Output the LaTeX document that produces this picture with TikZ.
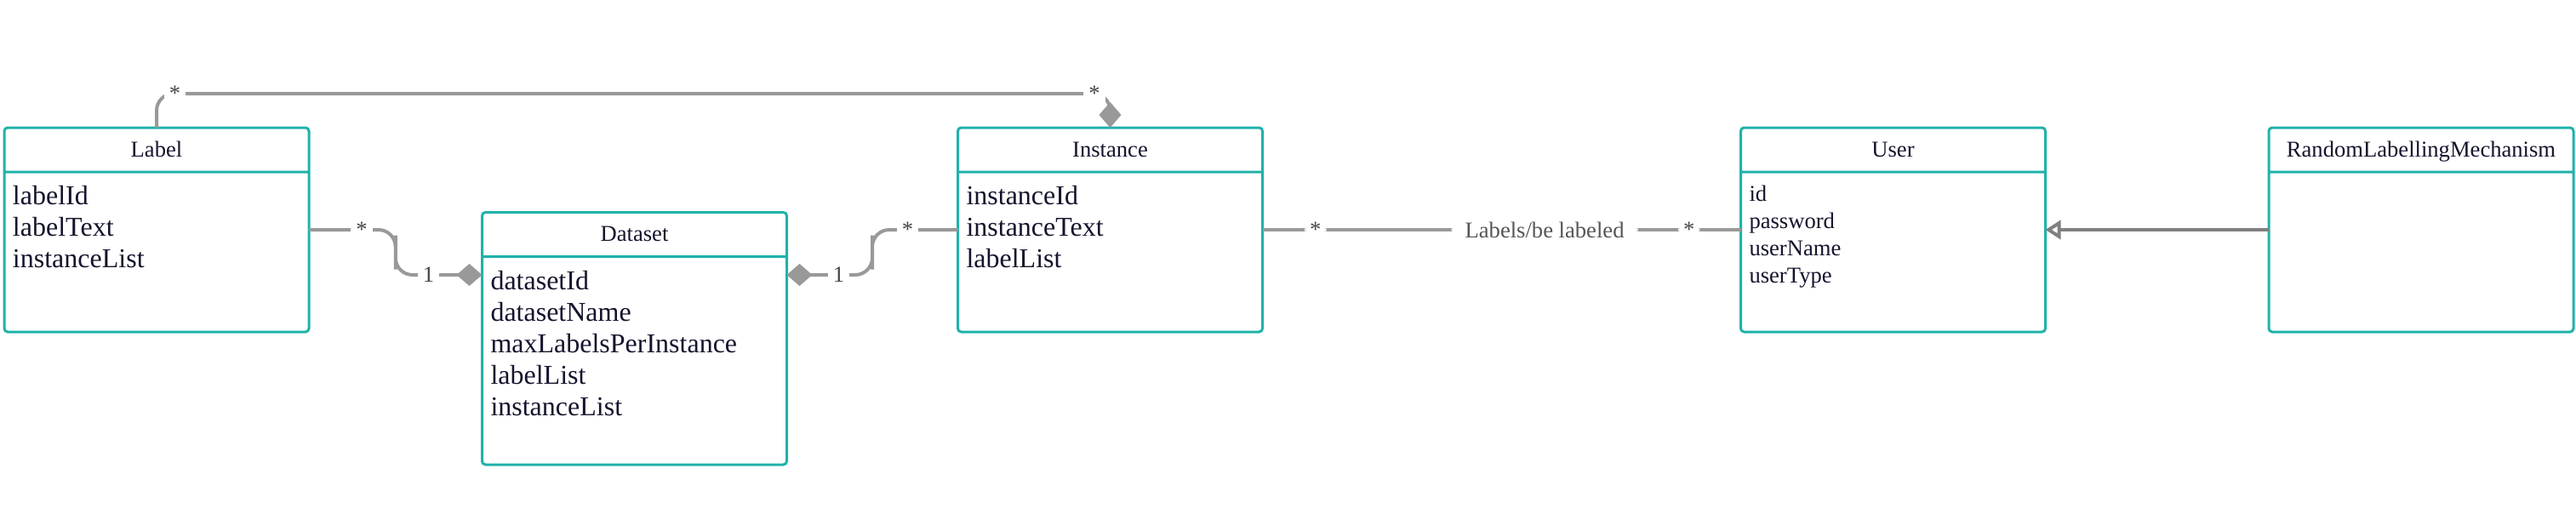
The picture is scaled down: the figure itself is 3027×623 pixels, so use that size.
\documentclass[tikz,border=0pt]{standalone}
\usepackage{tikz}
\usetikzlibrary{arrows.meta,shapes.multipart,calc}
\usepackage{fontspec}
\setmainfont{Liberation Serif}
\definecolor{boxteal}{RGB}{32,178,170}
\definecolor{classink}{RGB}{20,20,45}
\definecolor{linegray}{RGB}{153,153,153}
\definecolor{gengray}{RGB}{128,128,128}
\definecolor{multgray}{RGB}{68,68,68}
\definecolor{assocgray}{RGB}{85,85,85}
% class header and attribute compartment
\newcommand{\classtitle}[1]{\parbox[c][24.5pt][c]{179pt}{\centering\strut #1}}
\newcommand{\attrbox}[5]{\parbox[t][#1][t]{179pt}{\fontsize{#2}{#3}\selectfont\raggedright\leftskip=5pt\rule{0pt}{#4}#5\par}}
\tikzset{comp/.tip={Diamond[length=15pt,width=13pt]}}

\begin{document}
\begin{tikzpicture}[x=0.5pt,y=-0.5pt,
	umlclass/.style={rectangle split, rectangle split parts=2,%
		draw=boxteal, line width=1.5pt, rounded corners=2pt,%
		inner sep=0pt, outer sep=0pt, anchor=north west,%
		text=classink, font=\fontsize{13.3}{20}\selectfont},
	assoc/.style={draw=linegray, line width=2pt, rounded corners=10pt},
	mult/.style={fill=white, text=multgray, inner sep=3pt,%
		font=\fontsize{13.3}{16}\selectfont},
	gen/.style={draw=gengray, line width=2pt,%
		-{Triangle[open,fill=white,length=9pt,width=11pt]}}]
	\useasboundingbox (0,0) rectangle (3027,623);

	\node[umlclass] (label) at (5,150) {\classtitle{Label}%
		\nodepart{two}\attrbox{92.5pt}{16}{18.5}{18.5pt}{labelId\\labelText\\instanceList}};
	\node[umlclass] (dataset) at (566.5,249.5) {\classtitle{Dataset}%
		\nodepart{two}\attrbox{120.75pt}{16}{18.5}{18.5pt}{datasetId\\datasetName\\maxLabelsPerInstance\\labelList\\instanceList}};
	\node[umlclass] (instance) at (1125.5,150) {\classtitle{Instance}%
		\nodepart{two}\attrbox{92.5pt}{16}{18.5}{18.5pt}{instanceId\\instanceText\\labelList}};
	\node[umlclass] (user) at (2045.5,150) {\classtitle{User}%
		\nodepart{two}\attrbox{92.5pt}{13.3}{16}{16.5pt}{id\\password\\userName\\userType}};
	\node[umlclass] (rlm) at (2666,150) {\classtitle{RandomLabellingMechanism}%
		\nodepart{two}\attrbox{92.5pt}{13.3}{16}{16.5pt}{}};

	\coordinate (dsin) at ([yshift=-36.75pt]dataset.north west);
	\coordinate (dsout) at ([yshift=-36.75pt]dataset.north east);

	% compositions
	\draw[assoc,-comp] (label.east) -| ($(label.east)!.5!(dsin)$) |- (dsin);
	\draw[assoc,comp-] (dsout) -| ($(dsout)!.5!(instance.west)$) |- (instance.west);
	\draw[assoc,-comp] (label.north) |- ([yshift=20pt]instance.north) -- (instance.north);
	% association
	\draw[assoc] (instance.east) -- node[mult,pos=.111] (m4a) {*}%
		node[mult,pos=.59,text=assocgray,inner xsep=8pt] (m4l) {Labels/be labeled}%
		node[mult,pos=.892] (m4b) {*} (user.west);
	% generalization
	\draw[gen] (rlm.west) -- (user.east);

	\node[mult] (m1a) at ([xshift=31pt]label.east) {*};
	\node[mult] (m1b) at ([xshift=-31.5pt]dsin) {1};
	\node[mult] (m2a) at ([xshift=30.5pt]dsout) {1};
	\node[mult] (m2b) at ([xshift=-29.5pt]instance.west) {*};
	\node[mult] (m3a) at ([xshift=10.75pt,yshift=20pt]label.north) {*};
	\node[mult] (m3b) at ([xshift=-9.25pt,yshift=20pt]instance.north) {*};
\end{tikzpicture}
\end{document}
